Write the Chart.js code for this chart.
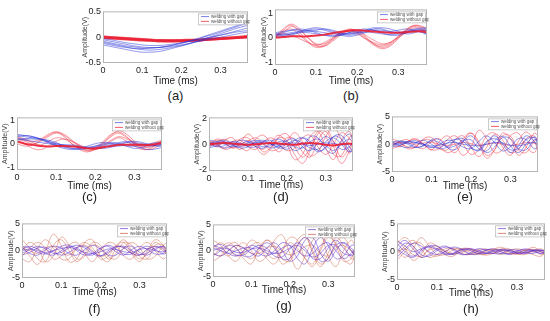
<!DOCTYPE html>
<html>
<head>
<meta charset="utf-8">
<script src="https://cdn.jsdelivr.net/npm/chart.js@4.4.0/dist/chart.umd.min.js"></script>
<style>
body{margin:0;background:#fff;width:550px;height:321px;position:relative;overflow:hidden;font-family:"Liberation Sans",Arial,sans-serif}
.p{position:absolute}
.lab{position:absolute;font-size:13px;color:#222;transform:translateX(-50%);line-height:14px}
</style>
</head>
<body>
<script>
// sample times (ms) shared by every trace
const time = [0, 0.02, 0.04, 0.06, 0.08, 0.10, 0.12, 0.14, 0.16, 0.18, 0.20, 0.22, 0.24, 0.26, 0.28, 0.30, 0.32, 0.34, 0.36, 0.37];
const xTicks = [0, 0.1, 0.2, 0.3];

// (a)
const yTicksA = [-0.5, 0, 0.5];
const redA = [
  [0, -0.01, -0.02, -0.03, -0.04, -0.05, -0.06, -0.065, -0.07, -0.07, -0.07, -0.065, -0.06, -0.05, -0.04, -0.03, -0.02, -0.01, 0, 0.01],
  [0.02, 0.01, 0, -0.01, -0.02, -0.03, -0.04, -0.05, -0.05, -0.05, -0.05, -0.045, -0.04, -0.03, -0.02, -0.01, 0, 0.01, 0.02, 0.03],
  [-0.01, -0.02, -0.03, -0.04, -0.05, -0.06, -0.07, -0.08, -0.08, -0.08, -0.08, -0.075, -0.07, -0.06, -0.05, -0.04, -0.03, -0.02, -0.01, 0],
  [0.01, 0, -0.01, -0.02, -0.03, -0.04, -0.05, -0.06, -0.06, -0.065, -0.06, -0.055, -0.05, -0.04, -0.03, -0.02, -0.01, 0, 0.01, 0.02],
  [-0.02, -0.03, -0.04, -0.05, -0.06, -0.07, -0.075, -0.08, -0.085, -0.085, -0.08, -0.075, -0.07, -0.06, -0.05, -0.04, -0.03, -0.02, -0.01, -0.005]
];
const blueA = [
  [-0.05, -0.08, -0.11, -0.14, -0.17, -0.19, -0.2, -0.2, -0.19, -0.17, -0.15, -0.12, -0.09, -0.06, -0.03, 0, 0.03, 0.06, 0.09, 0.1],
  [-0.1, -0.13, -0.16, -0.19, -0.22, -0.24, -0.25, -0.24, -0.22, -0.19, -0.16, -0.12, -0.08, -0.04, 0, 0.04, 0.08, 0.12, 0.16, 0.18],
  [-0.15, -0.18, -0.21, -0.24, -0.27, -0.29, -0.29, -0.28, -0.25, -0.21, -0.17, -0.13, -0.08, -0.03, 0.02, 0.07, 0.12, 0.17, 0.21, 0.23],
  [-0.03, -0.05, -0.08, -0.11, -0.13, -0.15, -0.16, -0.16, -0.15, -0.13, -0.11, -0.08, -0.05, -0.02, 0.01, 0.04, 0.07, 0.1, 0.12, 0.13],
  [-0.08, -0.11, -0.14, -0.17, -0.19, -0.21, -0.21, -0.2, -0.18, -0.15, -0.12, -0.08, -0.04, 0.01, 0.05, 0.1, 0.15, 0.2, 0.25, 0.27],
  [-0.12, -0.15, -0.18, -0.2, -0.22, -0.22, -0.21, -0.2, -0.18, -0.15, -0.11, -0.07, -0.03, 0.02, 0.07, 0.12, 0.17, 0.22, 0.27, 0.3]
];

// (b)
const yTicksB = [-1, 0, 1];
const redB = [
  [0, 0.3, 0.5, 0.2, -0.15, -0.35, -0.3, -0.05, 0.2, 0.35, 0.25, 0, -0.25, -0.4, -0.3, 0, 0.3, 0.45, 0.35, 0.25],
  [0.05, 0.25, 0.35, 0.1, -0.2, -0.4, -0.35, -0.1, 0.15, 0.3, 0.2, -0.05, -0.3, -0.45, -0.35, -0.05, 0.25, 0.4, 0.3, 0.2],
  [0, 0.2, 0.45, 0.3, 0, -0.25, -0.25, -0.05, 0.15, 0.25, 0.15, -0.05, -0.2, -0.3, -0.2, 0.05, 0.3, 0.5, 0.4, 0.3],
  [0.1, 0.15, 0.1, -0.05, -0.2, -0.3, -0.2, 0, 0.2, 0.3, 0.3, 0.1, -0.1, -0.25, -0.2, 0, 0.2, 0.3, 0.25, 0.2],
  [0.05, 0.35, 0.55, 0.35, 0, -0.3, -0.35, -0.15, 0.1, 0.3, 0.3, 0.05, -0.25, -0.35, -0.25, 0.05, 0.35, 0.5, 0.45, 0.35],
  [0, 0.02, 0.05, 0.05, 0.05, 0.08, 0.12, 0.18, 0.24, 0.28, 0.3, 0.28, 0.25, 0.22, 0.2, 0.2, 0.22, 0.25, 0.25, 0.2]
];
const blueB = [
  [0.1, 0.15, 0.2, 0.25, 0.28, 0.25, 0.2, 0.15, 0.15, 0.2, 0.25, 0.3, 0.3, 0.25, 0.2, 0.2, 0.25, 0.3, 0.3, 0.25],
  [0.15, 0.2, 0.3, 0.35, 0.3, 0.2, 0.1, 0.05, 0.1, 0.2, 0.3, 0.35, 0.3, 0.2, 0.1, 0.1, 0.2, 0.3, 0.35, 0.35],
  [0.05, 0.1, 0.15, 0.2, 0.2, 0.15, 0.1, 0.08, 0.1, 0.15, 0.2, 0.22, 0.2, 0.15, 0.12, 0.15, 0.2, 0.25, 0.2, 0.15],
  [0.2, 0.25, 0.3, 0.3, 0.25, 0.3, 0.35, 0.3, 0.2, 0.15, 0.2, 0.3, 0.4, 0.35, 0.25, 0.2, 0.25, 0.35, 0.4, 0.4],
  [0, 0.05, 0.1, 0.2, 0.3, 0.35, 0.3, 0.2, 0.1, 0.05, 0.1, 0.2, 0.3, 0.3, 0.25, 0.3, 0.35, 0.3, 0.2, 0.1],
  [0.15, 0.1, 0.15, 0.25, 0.35, 0.4, 0.35, 0.25, 0.15, 0.1, 0.15, 0.25, 0.35, 0.4, 0.35, 0.25, 0.15, 0.2, 0.3, 0.3]
];

// (c)
const yTicksC = [-1, 0, 1];
const redC = [
  [0.2, 0.1, 0, 0.1, 0.3, 0.45, 0.35, 0.1, -0.1, -0.2, -0.15, 0.1, 0.4, 0.5, 0.3, 0, -0.1, 0, 0.1, 0.15],
  [0, -0.1, -0.05, 0.15, 0.35, 0.5, 0.4, 0.15, -0.1, -0.3, -0.25, 0, 0.3, 0.45, 0.25, 0.05, -0.15, -0.1, 0.05, 0.1],
  [0.3, 0.2, 0.05, -0.05, 0.1, 0.25, 0.2, 0, -0.2, -0.3, -0.2, -0.05, 0.15, 0.3, 0.2, 0, -0.2, -0.25, -0.1, 0],
  [0.1, 0, -0.2, -0.25, -0.1, 0.1, 0.2, 0.1, -0.05, -0.2, -0.25, -0.1, 0.1, 0.25, 0.1, -0.1, -0.25, -0.2, 0, 0.1],
  [0.25, 0.15, 0.1, 0.2, 0.4, 0.5, 0.3, 0, -0.25, -0.35, -0.2, 0.05, 0.35, 0.55, 0.4, 0.1, -0.1, -0.15, 0, 0.1],
  [0.1, 0, -0.05, -0.1, -0.12, -0.1, -0.1, -0.12, -0.15, -0.2, -0.2, -0.15, -0.1, -0.05, -0.05, -0.05, -0.05, -0.05, 0, 0.05]
];
const blueC = [
  [0.35, 0.3, 0.25, 0.2, 0.1, 0, -0.05, -0.1, -0.15, -0.2, -0.15, -0.1, -0.05, 0, 0.05, 0, -0.05, -0.1, -0.05, 0],
  [0.25, 0.2, 0.2, 0.15, 0.05, -0.05, -0.15, -0.2, -0.2, -0.15, -0.1, -0.05, 0, 0.05, 0.1, 0.05, 0, -0.05, -0.1, -0.1],
  [0.3, 0.35, 0.3, 0.2, 0.05, -0.1, -0.2, -0.25, -0.2, -0.1, 0, 0.05, 0, -0.05, -0.1, -0.1, -0.05, 0, 0.05, 0.05],
  [0.2, 0.15, 0.1, 0.05, 0, -0.05, -0.1, -0.1, -0.15, -0.2, -0.2, -0.15, -0.1, -0.1, -0.05, -0.1, -0.2, -0.25, -0.2, -0.15],
  [0.15, 0.2, 0.25, 0.2, 0.1, 0, -0.05, -0.05, -0.1, -0.15, -0.2, -0.2, -0.15, -0.05, 0.05, 0.1, 0.05, -0.05, -0.1, -0.05],
  [0.4, 0.35, 0.3, 0.2, 0.15, 0.05, -0.1, -0.2, -0.25, -0.2, -0.1, 0, 0.05, 0, -0.1, -0.2, -0.15, -0.05, 0, -0.05]
];

// (d)
const yTicksD = [-2, 0, 2];
const redD = [
  [0, 0.3, 0.1, -0.3, 0.1, 0.8, 0.2, -0.6, -0.2, 0.5, 0.3, -0.8, -1.5, -0.5, 0.8, 1.2, 0.2, -1.0, -0.3, 0.3],
  [0.2, -0.2, 0.3, 0.5, -0.2, -0.5, 0.4, 0.7, 0, -0.6, 0.2, 0.9, 0.2, -0.9, -0.6, 0.6, 1.3, 0.4, -0.7, -0.4],
  [-0.2, 0.1, 0.4, 0, -0.4, 0.2, 0.5, 0, -0.5, -0.3, 0.5, 0.4, -0.6, -1.0, 0.3, 1.0, -0.2, -1.5, -0.6, 0.2],
  [0.1, -0.1, -0.3, 0.2, 0.3, -0.2, -0.4, 0.2, 0.5, 0, -0.5, -0.3, 0.5, 0.7, -0.2, -0.8, 0, 0.9, 0.5, 0],
  [0.3, 0, -0.4, -0.2, 0.4, 0.5, -0.2, -0.8, -0.3, 0.6, 0.8, -0.2, -1.0, -0.3, 1.0, 0.6, -0.8, -0.9, 0.5, 0.8],
  [-0.1, 0.4, 0.2, -0.3, -0.1, 0.3, -0.1, -0.4, 0.2, 0.7, 0, -1.2, -0.8, 0.6, 1.0, -0.3, -1.2, 0.3, 1.0, 0.2],
  [0, 0.05, 0.1, 0.05, 0, -0.05, 0, 0.05, 0.1, 0.05, 0, -0.05, 0.05, 0.1, 0.05, -0.05, -0.1, 0, 0.05, 0]
];
const blueD = [
  [-0.2, 0.1, 0.2, -0.1, -0.2, 0.1, 0.3, 0, -0.3, -0.1, 0.3, 0.4, -0.2, -0.5, 0.1, 0.6, 0.2, -0.4, -0.2, 0.2],
  [0.1, -0.2, -0.1, 0.2, 0.1, -0.2, -0.2, 0.2, 0.3, -0.1, -0.4, 0, 0.5, 0.2, -0.5, -0.3, 0.6, 0.7, -0.2, -0.5],
  [-0.3, -0.1, 0.1, 0.15, 0, -0.1, 0.1, 0.2, 0, -0.2, 0, 0.3, 0.1, -0.3, -0.4, 0.2, 0.5, 0, -0.6, -0.3],
  [0.3, 0.2, 0, -0.2, 0, 0.2, 0, -0.2, -0.1, 0.2, 0.2, -0.2, -0.3, 0.2, 0.4, -0.1, -0.5, 0, 0.4, 0.2],
  [0.2, 0, -0.3, -0.1, 0.3, 0.2, -0.2, -0.3, 0.2, 0.4, 0, -0.5, -0.2, 0.6, 0.5, -0.4, -0.7, 0.2, 0.8, 0.3],
  [-0.1, 0.2, 0.3, 0, -0.3, -0.2, 0.2, 0.3, 0, -0.3, -0.2, 0.3, 0.5, 0, -0.6, -0.2, 0.6, 0.4, -0.5, -0.6],
  [0, 0.1, 0.05, 0, -0.05, 0, 0.1, 0.1, 0, -0.05, 0.05, 0.1, 0, -0.1, 0, 0.1, 0.05, -0.05, 0, 0.05]
];

// (e)
const yTicksE = [-5, 0, 5];
const redE = [
  [0.3, -0.5, 0.5, 1.0, 0, -1.0, 0.5, 1.5, 0, -2.0, -0.5, 2.5, 1.0, -1.5, -1.0, 1.5, 2.0, -0.5, -1.5, 0],
  [-0.5, 0.5, 0.8, -0.3, -0.8, 0.5, 1.0, -0.5, -1.5, 0.5, 2.0, 0.5, -2.0, -1.0, 1.5, 1.5, -1.0, -1.5, 0.5, 1.0],
  [0.5, 0.2, -0.5, -0.5, 0.8, 0.6, -0.8, -1.0, 0.8, 1.5, -0.5, -2.2, -0.5, 1.8, 0.8, -1.5, -1.0, 1.0, 1.5, 0.5],
  [1.0, 0.3, -0.8, -0.5, 1.0, 1.2, -0.3, -1.5, -0.8, 1.0, 2.0, 0, -2.5, -1.0, 2.0, 1.0, -2.0, -0.5, 2.0, 1.5],
  [-0.8, -0.3, 0.5, 0.8, 0, -1.0, -0.8, 0.8, 1.5, 0, -1.8, -1.0, 1.5, 2.0, -0.5, -2.0, 0.5, 2.2, 0.5, -1.0],
  [0, 0.3, 0.2, 0, 0.2, 0.3, 0, -0.2, 0, 0.3, 0.1, -0.2, 0, 0.2, 0, -0.2, 0, 0.3, 0.2, 0]
];
const blueE = [
  [-0.3, 0.5, 0.3, -0.5, -0.3, 0.8, 0.8, -0.6, -1.0, 0.5, 1.5, 0, -1.5, -0.5, 1.2, 1.0, -0.8, -1.0, 0.8, 0.5],
  [0.5, -0.3, -0.6, 0.2, 0.7, 0, -0.8, -0.5, 0.8, 1.0, -0.5, -1.2, 0.3, 1.5, 0, -1.5, -0.3, 1.5, 0.5, -0.5],
  [0, 0.2, 0.5, 0.3, -0.2, -0.6, 0, 0.7, 0.4, -0.5, -0.8, 0.5, 1.5, 0.3, -1.2, -0.5, 1.0, 0.8, -0.8, -0.5],
  [0.3, 0.6, 0, -0.6, -0.2, 0.6, 0.3, -0.5, -0.3, 0.6, 0.8, -0.8, -1.2, 0.6, 1.4, -0.3, -1.5, 0, 1.3, 0.6],
  [-0.5, -0.2, 0.4, 0.6, 0, -0.5, -0.6, 0.2, 0.9, 0.5, -0.7, -1.0, 0.5, 1.0, 0.2, -1.0, -0.8, 0.8, 1.2, 0],
  [-0.2, 0, 0.2, 0.3, 0, -0.3, -0.2, 0.2, 0.3, 0, -0.2, -0.3, 0, 0.3, 0.2, -0.2, -0.3, 0, 0.3, 0.2]
];

// (f)
const yTicksF = [-5, 0, 5];
const redF = [
  [0, 1.5, 0.5, -2.0, -1.0, 2.5, 1.0, -1.5, -1.0, 1.0, 0.5, -1.5, -0.5, 1.5, 1.0, -1.0, -1.5, 1.0, 1.0, 0],
  [1.0, -1.0, -2.5, 0, 3.0, 1.0, -2.0, -1.5, 1.5, 2.0, -1.0, -2.0, 0.5, 2.0, 0, -1.5, -0.5, 1.5, 0.5, -0.5],
  [-1.0, 0.5, 1.5, 0.5, -1.5, -1.0, 1.0, 1.5, -0.5, -2.0, 0, 1.5, 1.0, -1.0, -1.5, 0.5, 1.5, 0, -1.5, -1.0],
  [2.0, 0.5, -1.5, -2.0, 1.0, 2.0, 0, -2.0, -0.5, 1.5, 1.0, -1.0, -1.5, 0.5, 1.5, 0.5, -1.5, -1.0, 1.0, 1.5],
  [-1.5, -2.0, 0.5, 2.0, 0.5, -1.5, -1.5, 0.5, 1.5, 0.5, -1.5, -1.0, 1.0, 1.5, -0.5, -2.0, 0, 2.0, 1.0, -1.0],
  [0.5, 0, -0.5, 0.5, 0.8, -0.3, -0.8, 0.5, 1.0, 0, -1.0, -0.5, 0.8, 0.6, -0.5, -0.8, 0.3, 0.8, 0, -0.5]
];
const blueF = [
  [0.5, -0.5, -0.8, 0.2, 0.8, 0.5, -0.5, -0.8, 0.2, 1.0, 0.3, -0.8, -0.8, 0.5, 0.8, -0.3, -0.8, 0.2, 0.8, 0.3],
  [-0.5, 0.2, 0.8, 0.3, -0.5, -0.3, 0.5, 1.0, 0.5, -0.5, -1.0, 0, 0.8, 0.5, -0.5, -0.8, 0.2, 0.8, 0.3, -0.5],
  [0.8, 0.5, -0.3, -0.6, 0, 0.8, 1.0, 0, -0.8, -0.5, 0.5, 0.8, -0.2, -0.8, 0.2, 0.8, 0.2, -0.6, -0.5, 0.3],
  [-0.8, -0.3, 0.5, 0.6, -0.2, -0.8, -0.3, 0.6, 0.8, -0.2, -0.9, -0.3, 0.6, 0.8, 0, -0.7, -0.4, 0.5, 0.7, 0],
  [0.3, 0.8, 0.3, -0.5, -0.8, 0, 0.8, 0.5, -0.5, -0.8, 0.3, 1.0, 0.3, -0.6, -0.6, 0.3, 0.8, 0.2, -0.6, -0.4],
  [0, 0.3, 0, -0.3, 0, 0.4, 0.6, 0.2, -0.3, -0.5, -0.2, 0.3, 0.2, -0.2, -0.3, 0.2, 0.4, 0, -0.2, 0.2]
];

// (g)
const yTicksG = [-5, 0, 5];
const redG = [
  [1.0, 0, -1.0, 0.5, 1.5, 0, -2.0, -1.0, 2.0, 3.0, -0.5, -3.5, -1.0, 2.0, 3.0, -1.0, -3.0, 0, 2.0, 1.0],
  [-1.0, 0.5, 1.5, 0.5, -1.5, -2.5, 0.5, 2.0, 1.0, -1.5, -2.0, 1.0, 2.5, 0, -2.5, -1.5, 1.5, 2.5, 0, -1.0],
  [0.5, 1.5, 0.5, -1.0, -0.5, 1.0, 1.5, -0.5, -1.5, 0, 1.5, 0.5, -1.5, -2.5, 0.5, 3.0, 1.0, -2.0, -1.5, 0.5],
  [2.0, 1.0, -1.0, -2.0, 0, 2.0, 1.0, -1.5, -2.5, 0, 2.5, 2.0, -1.5, -3.0, 0, 2.5, 1.5, -1.5, -2.5, 0],
  [-2.0, -1.0, 1.0, 1.5, -0.5, -1.5, 0, 2.0, 0.5, -2.5, -1.5, 2.0, 3.0, -0.5, -3.0, -0.5, 2.5, 1.0, -1.5, -1.5],
  [-0.5, -1.0, 0, 1.0, 0.5, -0.5, -0.5, 0.5, 0.8, 0, -0.8, -0.3, 0.8, 1.0, -0.5, -1.0, 0.5, 1.0, 0, -0.5]
];
const blueG = [
  [0.5, 0, -0.5, 0, 0.5, 0.5, -0.5, -1.0, 0, 1.5, 1.0, -1.5, -2.5, 0.5, 2.5, 1.0, -1.5, -1.0, 1.0, 1.0],
  [-0.5, -1.0, 0, 1.0, 0.5, -0.5, -1.0, 0.5, 1.5, 0, -2.0, -1.0, 2.0, 2.5, -0.5, -2.0, 0, 1.5, 0.5, -0.5],
  [1.0, 0.5, -0.5, -1.0, 0, 1.0, 0.5, -0.5, -0.5, 0.5, 1.0, 0, -1.0, -0.5, 1.0, 1.5, 0, -1.5, -0.5, 0.5],
  [-1.0, 0, 1.0, 0.5, -1.0, -1.0, 0.5, 1.5, 0.5, -1.5, -1.5, 1.0, 2.5, 1.0, -2.0, -1.5, 1.0, 1.5, 0, -1.0],
  [0.8, 1.2, 0.3, -0.8, -0.8, 0.3, 1.0, 0.5, -1.0, -1.2, 0.3, 1.5, 0.5, -1.5, -1.5, 0.5, 2.0, 0.5, -1.0, -0.5],
  [0, 0.5, 0.3, -0.3, -0.3, 0.3, 0.5, 0, -0.5, -0.3, 0.5, 1.0, 0, -1.2, -0.5, 1.0, 1.0, -0.5, -0.8, 0]
];

// (h)
const yTicksH = [-5, 0, 5];
const redH = [
  [1.5, 2.5, 1.0, -1.0, 0.5, 1.0, 0, -0.5, 0.5, 0.5, -0.3, -0.5, 0.3, 0.8, 0, -0.5, 0, 0.8, 0, -0.5],
  [-0.5, 1.0, 2.0, 0.5, -1.0, -0.5, 0.5, 0.5, -0.3, -0.5, 0.3, 0.5, 0, -0.5, 0.2, 0.5, 0.2, -0.5, -0.8, 0],
  [0.5, -1.0, 0.5, 2.5, 1.0, -0.5, -0.5, 0.3, 0.5, 0, -0.3, 0, 0.5, 0.3, -0.3, -0.3, 0.3, 0.3, -0.5, -0.3],
  [2.0, 0.5, -1.5, -0.5, 1.5, 1.0, -0.5, -0.8, 0.3, 0.6, 0, -0.6, -0.3, 0.5, 0.5, -0.3, -0.5, 0.2, 0.5, 0.2],
  [-1.5, 0, 1.5, 1.5, -0.3, -0.8, 0, 0.6, 0.3, -0.4, -0.4, 0.2, 0.4, 0, -0.4, -0.2, 0.3, 0.4, 0, -0.3],
  [0, 0.5, -0.5, -0.8, 0.3, 0.5, 0.2, -0.3, -0.2, 0.3, 0.2, -0.2, -0.3, 0.2, 0.3, 0, -0.2, 0, 0.2, 0]
];
const blueH = [
  [1.0, 2.0, 0.5, -1.0, -0.5, 0.5, 1.0, 0.3, -0.5, -0.3, 0.5, 0.3, -0.3, -0.3, 0.3, 0.3, -0.2, -0.3, 0.2, 0.2],
  [-1.0, 0.5, 1.5, 1.0, 0, -0.5, 0, 0.8, 0.5, -0.3, -0.5, 0.2, 0.5, 0, -0.5, 0, 0.5, 0.2, -0.3, 0],
  [0.5, -0.5, -1.0, 0, 1.0, 1.0, 0, -0.5, 0, 0.5, 0.3, -0.2, -0.3, 0.2, 0.3, -0.2, -0.3, 0.2, 0.3, 0],
  [0, 1.5, 1.0, -0.5, -0.8, 0.2, 0.8, 0.5, -0.3, -0.5, 0, 0.4, 0.2, -0.3, -0.3, 0.2, 0.3, 0, -0.3, -0.1],
  [1.5, 0, -0.8, 0.3, 0.8, 0.3, -0.5, -0.3, 0.4, 0.3, -0.3, -0.3, 0.2, 0.4, 0, -0.3, -0.2, 0.2, 0.3, 0],
  [2.0, 1.0, 0, 0.5, 1.0, 0.5, -0.3, -0.3, 0.3, 0.5, 0, -0.3, 0, 0.3, 0.2, -0.2, 0, 0.3, 0, -0.2]
];

const legendText = ['welding with gap', 'welding without gap'];

const warm = {red: '235,30,50', blue: '40,50,215'};
const muted = {red: '205,90,65', blue: '90,40,205'};

// plot box = [left, top, width, height] of the axes area on the page
const panels = [
  {tag: '(a)', red: redA, blue: blueA, yTicks: yTicksA, ymin: -0.5, ymax: 0.5, box: [103, 7, 145, 56], yw: 23, xh: 24, lab: 89, col: warm, redA: 0.75, redW: 1.6, bold: -1},
  {tag: '(b)', red: redB, blue: blueB, yTicks: yTicksB, ymin: -1.12, ymax: 1.15, box: [275, 5, 152, 60], yw: 16, xh: 22, lab: 89, col: warm, redA: 0.45, redW: 1, bold: 5},
  {tag: '(c)', red: redC, blue: blueC, yTicks: yTicksC, ymin: -1.12, ymax: 1.12, box: [17, 113, 145, 57], yw: 17, xh: 22, lab: 190, col: warm, redA: 0.45, redW: 1, bold: 5},
  {tag: '(d)', red: redD, blue: blueD, yTicks: yTicksD, ymin: -2.1, ymax: 2.1, box: [209, 113, 144, 58], yw: 17, xh: 20, lab: 190, col: warm, redA: 0.45, redW: 1, bold: 6},
  {tag: '(e)', red: redE, blue: blueE, yTicks: yTicksE, ymin: -5, ymax: 5, box: [392, 112, 146, 60], yw: 17, xh: 20, lab: 190, col: warm, redA: 0.45, redW: 1, bold: -1},
  {tag: '(f)', red: redF, blue: blueF, yTicks: yTicksF, ymin: -5, ymax: 5, box: [22, 219, 145, 59], yw: 16, xh: 20, lab: 302, col: muted, redA: 0.45, redW: 1, bold: -1},
  {tag: '(g)', red: redG, blue: blueG, yTicks: yTicksG, ymin: -5, ymax: 5, box: [213, 220, 142, 57], yw: 17, xh: 19, lab: 299, col: muted, redA: 0.45, redW: 1, bold: -1},
  {tag: '(h)', red: redH, blue: blueH, yTicks: yTicksH, ymin: -5, ymax: 5, box: [397, 219, 148, 61], yw: 17, xh: 19, lab: 302, col: muted, redA: 0.45, redW: 1, bold: -1}
];

const frame = {
  id: 'frame',
  afterDatasetsDraw(chart) {
    const {ctx, chartArea: a} = chart;
    ctx.save();
    ctx.strokeStyle = '#b4b4b4';
    ctx.lineWidth = 1;
    ctx.strokeRect(a.left + 0.5, a.top + 0.5, a.right - a.left - 1, a.bottom - a.top - 1);
    ctx.restore();
  }
};

const legendBox = {
  id: 'legendBox',
  afterDraw(chart, args, o) {
    const {ctx, chartArea: a} = chart;
    const w = 48, h = 11, x = a.right - w - 2, y = a.top + 2;
    ctx.save();
    ctx.fillStyle = '#fff';
    ctx.fillRect(x, y, w, h);
    ctx.strokeStyle = '#aaa';
    ctx.lineWidth = 0.6;
    ctx.strokeRect(x + 0.5, y + 0.5, w, h);
    ctx.font = '4.5px "Liberation Sans"';
    ctx.textBaseline = 'middle';
    o.colors.forEach((c, i) => {
      const yy = y + 3.2 + i * 4.8;
      ctx.strokeStyle = c;
      ctx.lineWidth = 0.8;
      ctx.beginPath();
      ctx.moveTo(x + 3, yy);
      ctx.lineTo(x + 11, yy);
      ctx.stroke();
      ctx.fillStyle = '#555';
      ctx.fillText(legendText[i], x + 13, yy);
    });
    ctx.restore();
  }
};

function series(vals) {
  return vals.map((v, i) => ({x: time[i], y: v}));
}

panels.forEach(p => {
  const [bx, by, bw, bh] = p.box;
  const padT = 3, padR = 2;
  const cv = document.createElement('canvas');
  cv.className = 'p';
  cv.width = p.yw + bw + padR;
  cv.height = padT + bh + p.xh;
  cv.style.left = (bx - p.yw) + 'px';
  cv.style.top = (by - padT) + 'px';
  document.body.appendChild(cv);

  const lab = document.createElement('div');
  lab.className = 'lab';
  lab.textContent = p.tag;
  lab.style.left = (bx + bw / 2) + 'px';
  lab.style.top = p.lab + 'px';
  document.body.appendChild(lab);

  const ds = [];
  p.blue.forEach(v => ds.push({data: series(v), borderColor: 'rgba(' + p.col.blue + ',0.5)', borderWidth: 1}));
  p.red.forEach((v, i) => {
    const b = i === p.bold;
    ds.push({data: series(v), borderColor: 'rgba(' + p.col.red + ',' + (b ? 0.9 : p.redA) + ')', borderWidth: b ? 2 : p.redW, order: b ? -1 : 0});
  });

  new Chart(cv, {
    type: 'line',
    data: {datasets: ds},
    plugins: [frame, legendBox],
    options: {
      responsive: false,
      animation: false,
      devicePixelRatio: 1,
      layout: {padding: {top: padT, right: padR, left: 0, bottom: 0}},
      elements: {point: {radius: 0}, line: {tension: 0.4}},
      plugins: {
        legend: {display: false},
        tooltip: {enabled: false},
        legendBox: {colors: ['rgba(' + p.col.blue + ',0.8)', 'rgba(' + p.col.red + ',0.9)']}
      },
      scales: {
        x: {
          type: 'linear', min: 0, max: 0.37,
          grid: {display: false, drawTicks: false},
          border: {display: false},
          afterBuildTicks: s => { s.ticks = xTicks.map(v => ({value: v})); },
          afterFit: s => { s.height = p.xh; },
          ticks: {padding: 2, color: '#222', font: {size: 9, family: 'Liberation Sans'}, callback: v => String(v), maxRotation: 0},
          title: {display: true, text: 'Time (ms)', color: '#222', padding: {top: 0, bottom: 0}, font: {size: 10, family: 'Liberation Sans'}}
        },
        y: {
          min: p.ymin, max: p.ymax,
          grid: {display: false, drawTicks: false},
          border: {display: false},
          afterBuildTicks: s => { s.ticks = p.yTicks.map(v => ({value: v})); },
          afterFit: s => { s.width = p.yw; },
          ticks: {padding: 2, color: '#222', font: {size: 9, family: 'Liberation Sans'}, callback: v => String(v)},
          title: {display: true, text: 'Amplitude(V)', color: '#444', padding: {top: 1, bottom: 0}, font: {size: 7, family: 'Liberation Sans'}}
        }
      }
    }
  });
});
</script>
</body>
</html>
